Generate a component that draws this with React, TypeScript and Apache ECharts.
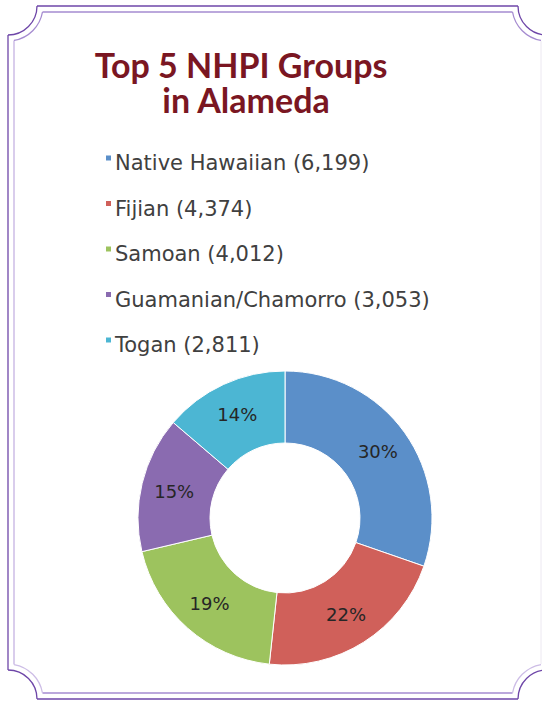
import React, { useEffect, useRef } from "react";
import * as echarts from "echarts";

const titleLines = ["Top 5 NHPI Groups", "in Alameda"];
const categories = ["Native Hawaiian", "Fijian", "Samoan", "Guamanian/Chamorro", "Togan"];
const values = [6199, 4374, 4012, 3053, 2811];
const pctLabels = ["30%", "22%", "19%", "15%", "14%"];
const colors = ["#5b8fc9", "#d0605a", "#9dc35e", "#8a6bb0", "#4cb6d3"];

const OUTER = "#6e46a8";
const INNER = "#a58bd0";
const INNER_FAINT = "#cdbde6";

function frameElements(): any[] {
  const els: any[] = [];
  const W = 547, H = 699, L = 8, T = 6;
  const ro = 29, ri = 35, off = 6;
  const line = (x1: number, y1: number, x2: number, y2: number, color: string, w = 1.3) => ({
    type: "line", silent: true,
    shape: { x1, y1, x2, y2 },
    style: { stroke: color, lineWidth: w },
  });
  const arc = (cx: number, cy: number, r: number, s: number, e: number, color: string, w = 1.3) => ({
    type: "arc", silent: true,
    shape: { cx, cy, r, startAngle: s, endAngle: e, clockwise: true },
    style: { stroke: color, lineWidth: w, fill: "none" },
  });
  const a = Math.asin(off / ri);
  const d = Math.sqrt(ri * ri - off * off);
  // outer
  els.push(line(L + ro, T, W - ro, T, OUTER));
  els.push(line(L + ro, H, W - ro, H, OUTER));
  els.push(line(L, T + ro, L, H - ro, OUTER));
  els.push(line(541, T + ro + 6, 541, H - ro - 6, "#ece8f1", 1));
  els.push(arc(L, T, ro, 0, Math.PI / 2, OUTER));
  els.push(arc(W, T, ro, Math.PI / 2, Math.PI, OUTER));
  els.push(arc(L, H, ro, -Math.PI / 2, 0, OUTER));
  els.push(arc(W, H, ro, Math.PI, Math.PI * 1.5, OUTER));
  // inner
  els.push(line(L + d, T + off, W - d, T + off, INNER));
  els.push(line(L + d, H - off, W - d, H - off, INNER));
  els.push(line(L + off, T + d, L + off, H - d, INNER_FAINT, 1.5));
  els.push(arc(L, T, ri, a, Math.PI / 2 - a, INNER));
  els.push(arc(W, T, ri, Math.PI / 2 + a, Math.PI - a, INNER));
  els.push(arc(L, H, ri, -Math.PI / 2 + a, -a, INNER_FAINT));
  els.push(arc(W, H, ri, Math.PI + a, Math.PI * 1.5 - a, INNER_FAINT));
  return els;
}

export default function App() {
  const ref = useRef<HTMLDivElement>(null);
  useEffect(() => {
    if (!ref.current) return;
    const chart = echarts.init(ref.current, undefined, { renderer: "svg" });
    const data = categories.map((c, i) => ({
      name: `${c} (${values[i].toLocaleString("en-US")})`,
      value: values[i],
      itemStyle: { color: colors[i] },
    }));
    const titleStyle = {
      fontFamily: "Lato",
      fontWeight: "bold" as const,
      fontSize: 34,
      lineHeight: 34,
      color: "#7a1622",
    };
    chart.setOption({
      animation: false,
      backgroundColor: "#ffffff",
      title: [
        { text: titleLines[0], left: 241, top: 47, padding: 0, textAlign: "center", textStyle: titleStyle },
        { text: titleLines[1], left: 246, top: 82, padding: 0, textAlign: "center", textStyle: titleStyle },
      ],
      legend: {
        orient: "vertical",
        left: 99,
        top: 146,
        icon: "path://M0,0h7v7h-7zM0,17",
        itemWidth: 7,
        itemHeight: 17,
        itemGap: 21.5,
        selectedMode: false,
        textStyle: {
          fontFamily: "DejaVu Sans",
          fontSize: 21,
          lineHeight: 24,
          color: "#404040",
          padding: [0, 0, 0, -2],
        },
      },
      graphic: frameElements(),
      series: [
        {
          type: "pie",
          center: [285, 518],
          radius: [75, 147],
          startAngle: 90,
          clockwise: true,
          silent: true,
          itemStyle: { borderColor: "#ffffff", borderWidth: 1 },
          label: {
            show: true,
            position: "inside",
            fontFamily: "DejaVu Sans",
            fontSize: 18,
            color: "#262626",
            formatter: (p: any) => pctLabels[p.dataIndex],
          },
          labelLine: { show: false },
          emphasis: { disabled: true },
          data,
        },
      ],
    });
    return () => chart.dispose();
  }, []);
  return (
    <div
      ref={ref}
      style={{ position: "fixed", left: 0, top: 0, width: 542, height: 701 }}
    />
  );
}
